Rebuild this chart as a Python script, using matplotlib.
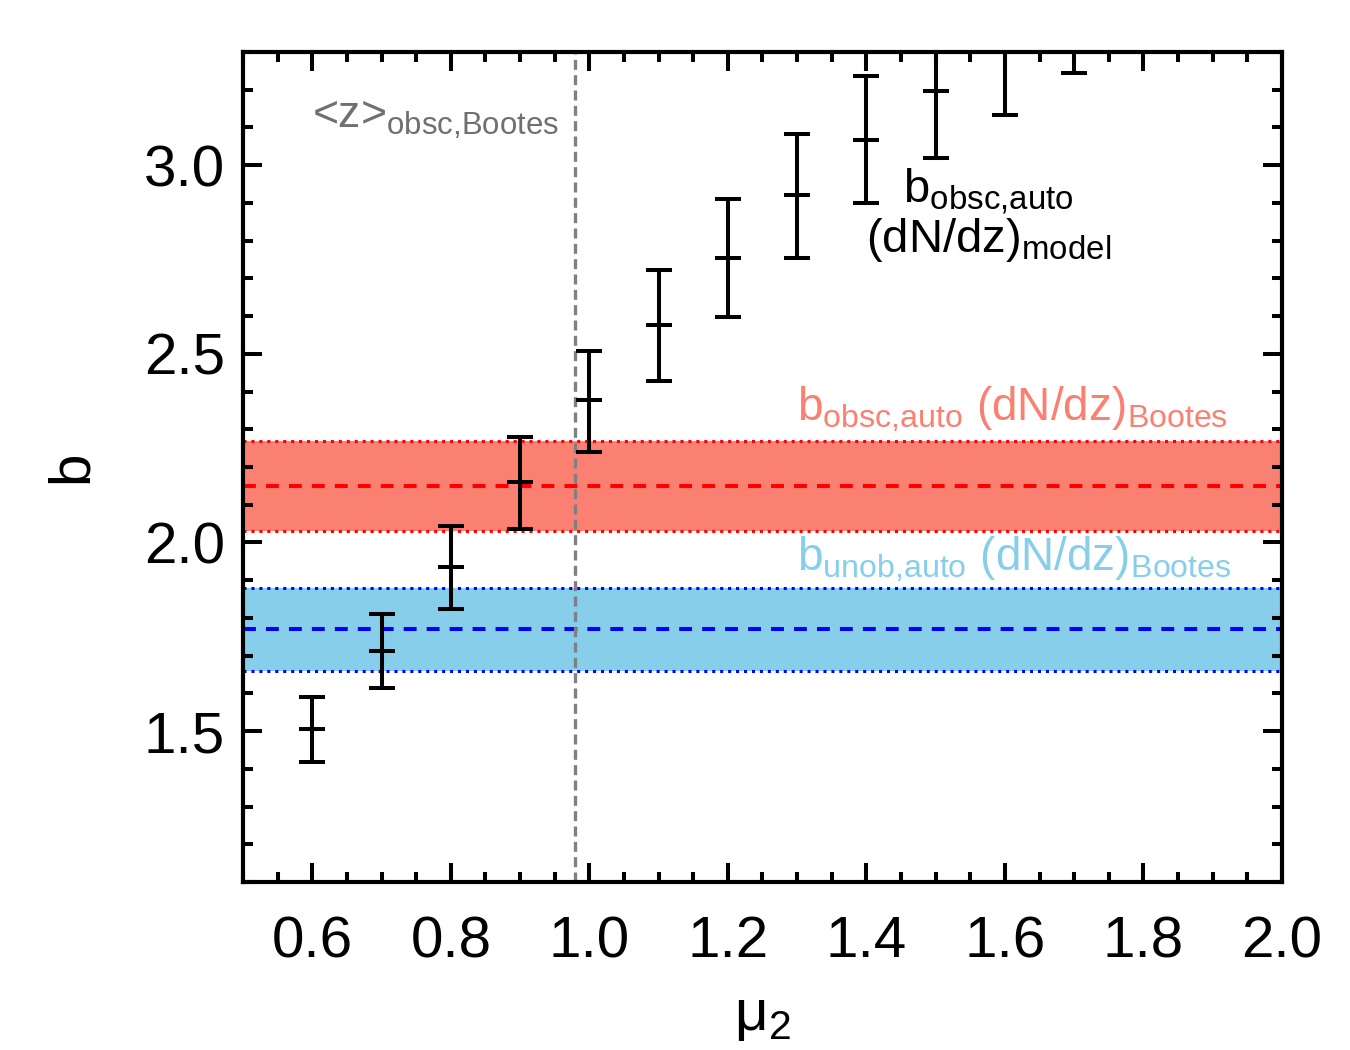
import numpy as np
import matplotlib
matplotlib.use("Agg")
import matplotlib.pyplot as plt
from matplotlib.ticker import MultipleLocator

plt.rcParams['font.family'] = ['Liberation Sans', 'DejaVu Sans']
plt.rcParams['mathtext.fontset'] = 'custom'
plt.rcParams['mathtext.rm'] = 'Liberation Sans'
plt.rcParams['mathtext.it'] = 'Liberation Sans'
plt.rcParams['mathtext.default'] = 'regular'

# bias vs mu2 (model dN/dz)
mu2 = [0.6, 0.7, 0.8, 0.9, 1.0, 1.1, 1.2, 1.3, 1.4, 1.5, 1.6, 1.7]
b_model = [1.505, 1.713, 1.934, 2.160, 2.378, 2.577, 2.755, 2.920, 3.066, 3.197, 3.335, 3.455]
err_lo = [0.087, 0.099, 0.110, 0.125, 0.139, 0.149, 0.157, 0.167, 0.167, 0.178, 0.202, 0.210]
err_hi = [0.085, 0.098, 0.109, 0.119, 0.130, 0.144, 0.155, 0.162, 0.171, 0.180, 0.200, 0.210]

# Bootes dN/dz bands
b_obsc, b_obsc_lo, b_obsc_hi = 2.15, 2.03, 2.27
b_unob, b_unob_lo, b_unob_hi = 1.77, 1.66, 1.88
z_obsc_mu = 0.98

xticks = [0.6, 0.8, 1.0, 1.2, 1.4, 1.6, 1.8, 2.0]
yticks = [1.5, 2.0, 2.5, 3.0]

fig = plt.figure(figsize=(13.5, 10.5), dpi=100)
ax = fig.add_axes([0.18, 0.16, 0.7696, 0.7905])

ax.axhspan(b_obsc_lo, b_obsc_hi, color='#fa8072', lw=0, zorder=1)
ax.axhspan(b_unob_lo, b_unob_hi, color='#87ceeb', lw=0, zorder=1)
for lo, hi, mid, c in [(b_obsc_lo, b_obsc_hi, b_obsc, 'red'), (b_unob_lo, b_unob_hi, b_unob, 'blue')]:
    ax.axhline(lo, color=c, ls=(0, (1, 1.6)), lw=2.2, zorder=2)
    ax.axhline(hi, color=c, ls=(0, (1, 1.6)), lw=2.2, zorder=2)
    ax.axhline(mid, color=c, ls=(0, (3.2, 2.5)), lw=2.9, zorder=2)

ax.axvline(z_obsc_mu, color='#808080', ls=(0, (3, 1.6)), lw=2.4, zorder=2)

ax.errorbar(mu2, b_model, yerr=[err_lo, err_hi], fmt='none', ecolor='black',
            elinewidth=2.9, capsize=9.5, capthick=2.9, zorder=4)
ax.plot(mu2, b_model, ls='none', marker='_', ms=19, mew=2.9, color='black', zorder=4)

ax.text(0.6, 3.10, r'<z>$_{obsc{,}Bootes}$', color='#707070', fontsize=32)
ax.text(1.453, 2.90, r'b$_{obsc{,}auto}$', color='black', fontsize=34)
ax.text(1.40, 2.77, r'(dN/dz)$_{model}$', color='black', fontsize=34)
ax.text(1.30, 2.322, r'b$_{obsc{,}auto}$ (dN/dz)$_{Bootes}$', color='#fa8072', fontsize=33)
ax.text(1.30, 1.925, r'b$_{unob{,}auto}$ (dN/dz)$_{Bootes}$', color='#87ceeb', fontsize=33)

ax.set_xlim(0.5, 2.0)
ax.set_ylim(1.1, 3.3)
ax.set_xticks(xticks)
ax.set_xticklabels(['%.1f' % v for v in xticks])
ax.set_yticks(yticks)
ax.set_yticklabels(['%.1f' % v for v in yticks])
ax.xaxis.set_minor_locator(MultipleLocator(0.05))
ax.yaxis.set_minor_locator(MultipleLocator(0.1))
ax.tick_params(which='both', direction='in', top=True, right=True, width=2.9, labelsize=42)
ax.tick_params(which='major', length=14)
ax.tick_params(which='minor', length=7)
ax.tick_params(axis='x', pad=24)
ax.tick_params(axis='y', pad=13)
for s in ax.spines.values():
    s.set_linewidth(3)

ax.set_xlabel(r'μ$_2$', fontsize=42, labelpad=14)
ax.set_ylabel('b', fontsize=42, labelpad=32)

fig.savefig('out.png', dpi=100)
